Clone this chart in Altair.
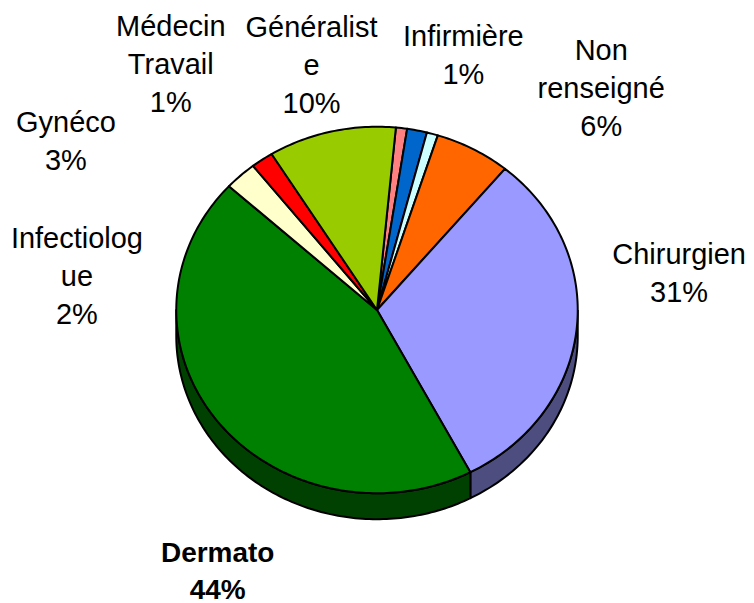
import math
import altair as alt
import pandas as pd

slice_names = ["Médecin Travail", "Infirmière", "Autre", "Non renseigné", "Chirurgien",
               "Dermato", "Gynéco", "Infectiologue", "Généraliste"]
slice_values = [0.9, 1.6, 0.9, 6.1, 31.3, 44.5, 2.6, 1.8, 10.3]
slice_colors = ["#FF8080", "#0066CC", "#CCFFFF", "#FF6600", "#9999FF",
                "#008000", "#FFFFCC", "#FF0000", "#99CC00"]
side_colors = ["#804040", "#003366", "#668080", "#803300", "#4D4D80",
               "#004000", "#808066", "#800000", "#4D6600"]
label_texts = ["Médecin\nTravail\n1%", "Généralist\ne\n10%", "Infirmière\n1%", "Non\nrenseigné\n6%",
               "Chirurgien\n31%", "Dermato\n44%", "Infectiolog\nue\n2%", "Gynéco\n3%"]
label_x = [171, 312, 464, 602, 680, 218, 77, 66]
label_y = [27, 28, 37, 51, 255, 554, 239, 123]
label_bold = [False, False, False, False, False, True, False, False]

CX, CY, RX, RY, DEPTH, START = 377.5, 310, 201, 183.5, 26, 5.4
FONT = "Liberation Sans"
FS = 29
xs = alt.Scale(domain=[8, 746], nice=False, zero=False)
ys = alt.Scale(domain=[595, 8], nice=False, zero=False)


def pt(deg, dz=0):
    r = math.radians(deg)
    return CX + RX * math.sin(r), CY - RY * math.cos(r) + dz


def poly(points, fill):
    df = pd.DataFrame([{"i": i, "x": p[0], "y": p[1]} for i, p in enumerate(points)])
    return alt.Chart(df).mark_line(fill=fill, stroke="black", strokeWidth=2, strokeJoin="round").encode(
        x=alt.X("x:Q", scale=xs, axis=None),
        y=alt.Y("y:Q", scale=ys, axis=None),
        order=alt.Order("i:Q"),
    )


def arc(a, b):
    n = max(2, int(abs(b - a)) + 1)
    return [a + (b - a) * k / n for k in range(n + 1)]


layers = []
edges = []
a = START
for v in slice_values:
    edges.append((a, a + v * 3.6))
    a += v * 3.6

for (a, b), side in zip(edges, side_colors):
    lo, hi = max(a, 90), min(b, 270)
    if lo < hi:
        top = [pt(t) for t in arc(lo, hi)]
        bottom = [pt(t, DEPTH) for t in arc(hi, lo)]
        layers.append(poly(top + bottom + top[:1], side))

for (a, b), col in zip(edges, slice_colors):
    pts = [(CX, CY)] + [pt(t) for t in arc(a, b)] + [(CX, CY)]
    layers.append(poly(pts, col))

for t, x, y, bold in zip(label_texts, label_x, label_y, label_bold):
    layers.append(
        alt.Chart(pd.DataFrame({"x": [x], "y": [y], "t": [t.split("\n")]})).mark_text(
            font=FONT, fontSize=28 if bold else FS, fontWeight="bold" if bold else "normal",
            align="center", baseline="middle", lineHeight=37 if bold else 38, color="black"
        ).encode(
            x=alt.X("x:Q", scale=xs, axis=None),
            y=alt.Y("y:Q", scale=ys, axis=None),
            text="t",
        ).transform_calculate(t=alt.datum.t)
    )

chart = alt.layer(*layers).properties(width=738, height=587, padding=0).configure_view(stroke=None)
chart.save("out.html", embed_options={"renderer": "svg", "actions": False})
